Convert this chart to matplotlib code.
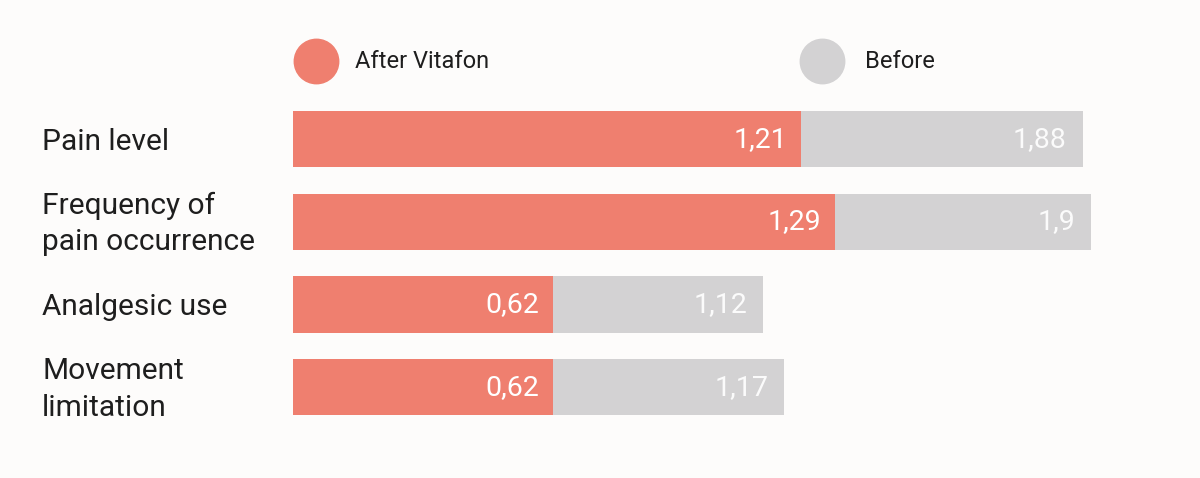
import matplotlib.pyplot as plt
from matplotlib.transforms import blended_transform_factory

plt.rcParams['font.family'] = ['Roboto', 'DejaVu Sans']

# Data
categories = ['Pain level', 'Frequency of\npain occurrence', 'Analgesic use', 'Movement\nlimitation']
after = [1.21, 1.29, 0.62, 0.62]
before = [1.88, 1.9, 1.12, 1.17]
after_labels = ['1,21', '1,29', '0,62', '0,62']
before_labels = ['1,88', '1,9', '1,12', '1,17']

salmon = '#ef7f6f'
grey = '#d3d2d3'
bg = '#fdfcfb'

fig = plt.figure(figsize=(12, 4.78), dpi=100, facecolor=bg)
ax = fig.add_axes([293 / 1200, 1 - 440 / 478, 840 / 1200, 350 / 478])
ax.set_facecolor(bg)

ypos = list(range(len(categories)))
ax.barh(ypos, before, height=0.68, color=grey)
ax.barh(ypos, after, height=0.68, color=salmon)

# Value labels inside bars
for y, a, b, al, bl in zip(ypos, after, before, after_labels, before_labels):
    ax.text(a - 0.033, y, al, ha='right', va='center', color='white', fontsize=20.5)
    ax.text(b - 0.038, y, bl, ha='right', va='center', color='#fbfbfb', fontsize=20.5)

ax.set_xlim(0, 2)
ax.set_ylim(3.64, -0.593)
ax.axis('off')

# Category labels
trans = blended_transform_factory(fig.transFigure, ax.transData)
for y, c in zip(ypos, categories):
    ax.text(42 / 1200, y + 0.03, c, transform=trans, ha='left', va='center',
            fontsize=21.5, color='#1e1e1e', linespacing=1.38)

# Legend
ly = 1 - 61 / 478
fig.lines.append(plt.Line2D([316 / 1200], [ly], marker='o', markersize=32,
                            color=salmon, transform=fig.transFigure))
fig.lines.append(plt.Line2D([822 / 1200], [ly], marker='o', markersize=32,
                            color=grey, transform=fig.transFigure))
fig.text(355 / 1200, ly, 'After Vitafon', ha='left', va='center', fontsize=17, color='#1e1e1e')
fig.text(865 / 1200, ly, 'Before', ha='left', va='center', fontsize=17, color='#1e1e1e')

fig.savefig('out.png', dpi=100, facecolor=bg)
